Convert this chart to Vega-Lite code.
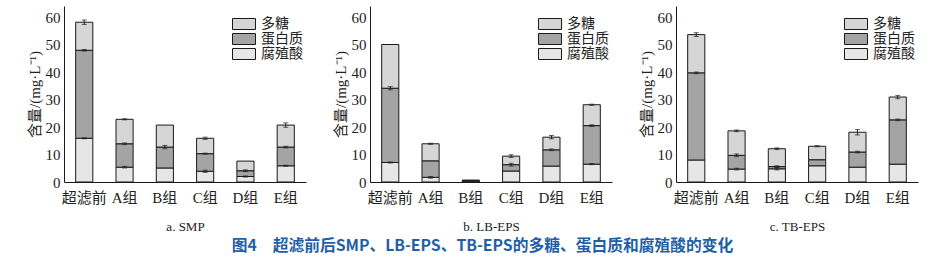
{
  "$schema": "https://vega.github.io/schema/vega-lite/v6.json",
  "padding": {"left": 27, "top": 6, "right": 5, "bottom": 4},
  "background": "white",
  "datasets": {
    "bars": [
      {"panel": "a", "group": "超滤前", "component": "腐殖酸", "key": "humic", "value": 15.9},
      {"panel": "a", "group": "超滤前", "component": "蛋白质", "key": "protein", "value": 32.0},
      {"panel": "a", "group": "超滤前", "component": "多糖", "key": "sugar", "value": 10.2},
      {"panel": "a", "group": "A组", "component": "腐殖酸", "key": "humic", "value": 5.4},
      {"panel": "a", "group": "A组", "component": "蛋白质", "key": "protein", "value": 8.5},
      {"panel": "a", "group": "A组", "component": "多糖", "key": "sugar", "value": 8.9},
      {"panel": "a", "group": "B组", "component": "腐殖酸", "key": "humic", "value": 5.1},
      {"panel": "a", "group": "B组", "component": "蛋白质", "key": "protein", "value": 7.6},
      {"panel": "a", "group": "B组", "component": "多糖", "key": "sugar", "value": 8.0},
      {"panel": "a", "group": "C组", "component": "腐殖酸", "key": "humic", "value": 3.9},
      {"panel": "a", "group": "C组", "component": "蛋白质", "key": "protein", "value": 6.4},
      {"panel": "a", "group": "C组", "component": "多糖", "key": "sugar", "value": 5.6},
      {"panel": "a", "group": "D组", "component": "腐殖酸", "key": "humic", "value": 2.0},
      {"panel": "a", "group": "D组", "component": "蛋白质", "key": "protein", "value": 2.1},
      {"panel": "a", "group": "D组", "component": "多糖", "key": "sugar", "value": 3.5},
      {"panel": "a", "group": "E组", "component": "腐殖酸", "key": "humic", "value": 5.9},
      {"panel": "a", "group": "E组", "component": "蛋白质", "key": "protein", "value": 6.8},
      {"panel": "a", "group": "E组", "component": "多糖", "key": "sugar", "value": 8.0},
      {"panel": "b", "group": "超滤前", "component": "腐殖酸", "key": "humic", "value": 7.1},
      {"panel": "b", "group": "超滤前", "component": "蛋白质", "key": "protein", "value": 27.0},
      {"panel": "b", "group": "超滤前", "component": "多糖", "key": "sugar", "value": 15.9},
      {"panel": "b", "group": "A组", "component": "腐殖酸", "key": "humic", "value": 1.7},
      {"panel": "b", "group": "A组", "component": "蛋白质", "key": "protein", "value": 6.0},
      {"panel": "b", "group": "A组", "component": "多糖", "key": "sugar", "value": 6.2},
      {"panel": "b", "group": "B组", "component": "腐殖酸", "key": "humic", "value": 0.3},
      {"panel": "b", "group": "B组", "component": "蛋白质", "key": "protein", "value": 0.2},
      {"panel": "b", "group": "B组", "component": "多糖", "key": "sugar", "value": 0.2},
      {"panel": "b", "group": "C组", "component": "腐殖酸", "key": "humic", "value": 4.0},
      {"panel": "b", "group": "C组", "component": "蛋白质", "key": "protein", "value": 2.3},
      {"panel": "b", "group": "C组", "component": "多糖", "key": "sugar", "value": 3.1},
      {"panel": "b", "group": "D组", "component": "腐殖酸", "key": "humic", "value": 5.8},
      {"panel": "b", "group": "D组", "component": "蛋白质", "key": "protein", "value": 5.9},
      {"panel": "b", "group": "D组", "component": "多糖", "key": "sugar", "value": 4.6},
      {"panel": "b", "group": "E组", "component": "腐殖酸", "key": "humic", "value": 6.5},
      {"panel": "b", "group": "E组", "component": "蛋白质", "key": "protein", "value": 14.0},
      {"panel": "b", "group": "E组", "component": "多糖", "key": "sugar", "value": 7.6},
      {"panel": "c", "group": "超滤前", "component": "腐殖酸", "key": "humic", "value": 8.0},
      {"panel": "c", "group": "超滤前", "component": "蛋白质", "key": "protein", "value": 31.7},
      {"panel": "c", "group": "超滤前", "component": "多糖", "key": "sugar", "value": 13.9},
      {"panel": "c", "group": "A组", "component": "腐殖酸", "key": "humic", "value": 4.7},
      {"panel": "c", "group": "A组", "component": "蛋白质", "key": "protein", "value": 5.0},
      {"panel": "c", "group": "A组", "component": "多糖", "key": "sugar", "value": 8.9},
      {"panel": "c", "group": "B组", "component": "腐殖酸", "key": "humic", "value": 4.8},
      {"panel": "c", "group": "B组", "component": "蛋白质", "key": "protein", "value": 0.8},
      {"panel": "c", "group": "B组", "component": "多糖", "key": "sugar", "value": 6.5},
      {"panel": "c", "group": "C组", "component": "腐殖酸", "key": "humic", "value": 5.9},
      {"panel": "c", "group": "C组", "component": "蛋白质", "key": "protein", "value": 2.2},
      {"panel": "c", "group": "C组", "component": "多糖", "key": "sugar", "value": 4.9},
      {"panel": "c", "group": "D组", "component": "腐殖酸", "key": "humic", "value": 5.4},
      {"panel": "c", "group": "D组", "component": "蛋白质", "key": "protein", "value": 5.5},
      {"panel": "c", "group": "D组", "component": "多糖", "key": "sugar", "value": 7.2},
      {"panel": "c", "group": "E组", "component": "腐殖酸", "key": "humic", "value": 6.5},
      {"panel": "c", "group": "E组", "component": "蛋白质", "key": "protein", "value": 16.1},
      {"panel": "c", "group": "E组", "component": "多糖", "key": "sugar", "value": 8.3}
    ],
    "errs": [
      {"panel": "a", "group": "超滤前", "lo": 57.3, "hi": 58.9},
      {"panel": "a", "group": "超滤前", "lo": 47.6, "hi": 48.2},
      {"panel": "a", "group": "超滤前", "lo": 15.7, "hi": 16.1},
      {"panel": "a", "group": "A组", "lo": 22.6, "hi": 23.0},
      {"panel": "a", "group": "A组", "lo": 13.6, "hi": 14.2},
      {"panel": "a", "group": "A组", "lo": 5.1, "hi": 5.7},
      {"panel": "a", "group": "B组", "lo": 12.1, "hi": 13.3},
      {"panel": "a", "group": "C组", "lo": 15.5, "hi": 16.3},
      {"panel": "a", "group": "C组", "lo": 10.1, "hi": 10.5},
      {"panel": "a", "group": "C组", "lo": 3.5, "hi": 4.3},
      {"panel": "a", "group": "D组", "lo": 3.8, "hi": 4.4},
      {"panel": "a", "group": "D组", "lo": 1.8, "hi": 2.2},
      {"panel": "a", "group": "E组", "lo": 19.9, "hi": 21.5},
      {"panel": "a", "group": "E组", "lo": 12.4, "hi": 13.0},
      {"panel": "a", "group": "E组", "lo": 5.7, "hi": 6.1},
      {"panel": "b", "group": "超滤前", "lo": 33.5, "hi": 34.7},
      {"panel": "b", "group": "超滤前", "lo": 6.9, "hi": 7.3},
      {"panel": "b", "group": "A组", "lo": 13.7, "hi": 14.1},
      {"panel": "b", "group": "A组", "lo": 1.4, "hi": 2.0},
      {"panel": "b", "group": "C组", "lo": 8.9, "hi": 9.9},
      {"panel": "b", "group": "C组", "lo": 5.8, "hi": 6.8},
      {"panel": "b", "group": "D组", "lo": 15.7, "hi": 16.9},
      {"panel": "b", "group": "D组", "lo": 11.4, "hi": 12.0},
      {"panel": "b", "group": "E组", "lo": 27.9, "hi": 28.3},
      {"panel": "b", "group": "E组", "lo": 20.2, "hi": 20.8},
      {"panel": "b", "group": "E组", "lo": 6.3, "hi": 6.7},
      {"panel": "c", "group": "超滤前", "lo": 52.9, "hi": 54.3},
      {"panel": "c", "group": "超滤前", "lo": 39.4, "hi": 40.0},
      {"panel": "c", "group": "A组", "lo": 18.3, "hi": 18.9},
      {"panel": "c", "group": "A组", "lo": 9.2, "hi": 10.2},
      {"panel": "c", "group": "A组", "lo": 4.4, "hi": 5.0},
      {"panel": "c", "group": "B组", "lo": 11.8, "hi": 12.4},
      {"panel": "c", "group": "B组", "lo": 5.3, "hi": 5.9},
      {"panel": "c", "group": "B组", "lo": 4.4, "hi": 5.2},
      {"panel": "c", "group": "C组", "lo": 12.8, "hi": 13.2},
      {"panel": "c", "group": "D组", "lo": 17.1, "hi": 19.1},
      {"panel": "c", "group": "D组", "lo": 10.6, "hi": 11.2},
      {"panel": "c", "group": "E组", "lo": 30.3, "hi": 31.5},
      {"panel": "c", "group": "E组", "lo": 22.3, "hi": 22.9}
    ]
  },
  "title": {
    "text": "图4\u3000超滤前后SMP、LB-EPS、TB-EPS的多糖、蛋白质和腐殖酸的变化",
    "orient": "bottom",
    "anchor": "middle",
    "font": "Noto Sans CJK SC",
    "fontSize": 15.75,
    "fontWeight": "bold",
    "color": "#1f5fa6",
    "offset": 6,
    "dx": 10
  },
  "spacing": 27,
  "resolve": {"scale": {"fill": "independent"}, "legend": {"fill": "independent"}},
  "hconcat": [
    {
      "width": 242, "height": 176,
      "encoding": {
        "x": {"field": "group", "type": "nominal", "sort": ["超滤前","A组","B组","C组","D组","E组"], "scale": {"paddingInner": 0.575, "paddingOuter": 0.29}, "axis": {"title": "a. SMP"}}
      },
      "layer": [
        {
          "data": {"name": "bars"},
          "transform": [{"filter": "datum.panel === 'a'"}],
          "mark": {"type": "bar", "stroke": "#1a1a1a", "strokeWidth": 1},
          "encoding": {
            "y": {"field": "value", "type": "quantitative", "stack": "zero", "scale": {"domain": [0, 64], "nice": false}, "axis": {"title": "含量/(mg·L⁻¹)", "values": [0,10,20,30,40,50,60], "labelOverlap": false}},
            "fill": {"field": "component", "type": "nominal", "scale": {"domain": ["多糖","蛋白质","腐殖酸"], "range": ["#d6d6d6", "#a4a4a4", "#e6e6e6"]}, "legend": {"title": null, "orient": "none", "legendX": 173, "legendY": 11}},
            "order": {"field": "key", "sort": "ascending"}
          }
        },
        {
          "data": {"name": "errs"},
          "transform": [{"filter": "datum.panel === 'a'"}],
          "mark": {"type": "rule", "color": "#222", "strokeWidth": 1},
          "encoding": {"y": {"field": "lo", "type": "quantitative", "axis": {"title": "含量/(mg·L⁻¹)", "values": [0,10,20,30,40,50,60], "labelOverlap": false}}, "y2": {"field": "hi"}}
        },
        {
          "data": {"name": "errs"},
          "transform": [{"filter": "datum.panel === 'a'"}],
          "mark": {"type": "tick", "color": "#222", "thickness": 1, "size": 5, "orient": "horizontal"},
          "encoding": {"y": {"field": "hi", "type": "quantitative", "axis": {"title": "含量/(mg·L⁻¹)", "values": [0,10,20,30,40,50,60], "labelOverlap": false}}}
        },
        {
          "data": {"name": "errs"},
          "transform": [{"filter": "datum.panel === 'a'"}],
          "mark": {"type": "tick", "color": "#222", "thickness": 1, "size": 5, "orient": "horizontal"},
          "encoding": {"y": {"field": "lo", "type": "quantitative", "axis": {"title": "含量/(mg·L⁻¹)", "values": [0,10,20,30,40,50,60], "labelOverlap": false}}}
        }
      ]
    },
    {
      "width": 242, "height": 176,
      "encoding": {
        "x": {"field": "group", "type": "nominal", "sort": ["超滤前","A组","B组","C组","D组","E组"], "scale": {"paddingInner": 0.575, "paddingOuter": 0.29}, "axis": {"title": "b. LB-EPS"}}
      },
      "layer": [
        {
          "data": {"name": "bars"},
          "transform": [{"filter": "datum.panel === 'b'"}],
          "mark": {"type": "bar", "stroke": "#1a1a1a", "strokeWidth": 1},
          "encoding": {
            "y": {"field": "value", "type": "quantitative", "stack": "zero", "scale": {"domain": [0, 64], "nice": false}, "axis": {"title": "含量/(mg·L⁻¹)", "values": [0,10,20,30,40,50,60], "labelOverlap": false}},
            "fill": {"field": "component", "type": "nominal", "scale": {"domain": ["多糖","蛋白质","腐殖酸"], "range": ["#d6d6d6", "#a4a4a4", "#e6e6e6"]}, "legend": {"title": null, "orient": "none", "legendX": 173, "legendY": 11}},
            "order": {"field": "key", "sort": "ascending"}
          }
        },
        {
          "data": {"name": "errs"},
          "transform": [{"filter": "datum.panel === 'b'"}],
          "mark": {"type": "rule", "color": "#222", "strokeWidth": 1},
          "encoding": {"y": {"field": "lo", "type": "quantitative", "axis": {"title": "含量/(mg·L⁻¹)", "values": [0,10,20,30,40,50,60], "labelOverlap": false}}, "y2": {"field": "hi"}}
        },
        {
          "data": {"name": "errs"},
          "transform": [{"filter": "datum.panel === 'b'"}],
          "mark": {"type": "tick", "color": "#222", "thickness": 1, "size": 5, "orient": "horizontal"},
          "encoding": {"y": {"field": "hi", "type": "quantitative", "axis": {"title": "含量/(mg·L⁻¹)", "values": [0,10,20,30,40,50,60], "labelOverlap": false}}}
        },
        {
          "data": {"name": "errs"},
          "transform": [{"filter": "datum.panel === 'b'"}],
          "mark": {"type": "tick", "color": "#222", "thickness": 1, "size": 5, "orient": "horizontal"},
          "encoding": {"y": {"field": "lo", "type": "quantitative", "axis": {"title": "含量/(mg·L⁻¹)", "values": [0,10,20,30,40,50,60], "labelOverlap": false}}}
        }
      ]
    },
    {
      "width": 242, "height": 176,
      "encoding": {
        "x": {"field": "group", "type": "nominal", "sort": ["超滤前","A组","B组","C组","D组","E组"], "scale": {"paddingInner": 0.575, "paddingOuter": 0.29}, "axis": {"title": "c. TB-EPS"}}
      },
      "layer": [
        {
          "data": {"name": "bars"},
          "transform": [{"filter": "datum.panel === 'c'"}],
          "mark": {"type": "bar", "stroke": "#1a1a1a", "strokeWidth": 1},
          "encoding": {
            "y": {"field": "value", "type": "quantitative", "stack": "zero", "scale": {"domain": [0, 64], "nice": false}, "axis": {"title": "含量/(mg·L⁻¹)", "values": [0,10,20,30,40,50,60], "labelOverlap": false}},
            "fill": {"field": "component", "type": "nominal", "scale": {"domain": ["多糖","蛋白质","腐殖酸"], "range": ["#d6d6d6", "#a4a4a4", "#e6e6e6"]}, "legend": {"title": null, "orient": "none", "legendX": 173, "legendY": 11}},
            "order": {"field": "key", "sort": "ascending"}
          }
        },
        {
          "data": {"name": "errs"},
          "transform": [{"filter": "datum.panel === 'c'"}],
          "mark": {"type": "rule", "color": "#222", "strokeWidth": 1},
          "encoding": {"y": {"field": "lo", "type": "quantitative", "axis": {"title": "含量/(mg·L⁻¹)", "values": [0,10,20,30,40,50,60], "labelOverlap": false}}, "y2": {"field": "hi"}}
        },
        {
          "data": {"name": "errs"},
          "transform": [{"filter": "datum.panel === 'c'"}],
          "mark": {"type": "tick", "color": "#222", "thickness": 1, "size": 5, "orient": "horizontal"},
          "encoding": {"y": {"field": "hi", "type": "quantitative", "axis": {"title": "含量/(mg·L⁻¹)", "values": [0,10,20,30,40,50,60], "labelOverlap": false}}}
        },
        {
          "data": {"name": "errs"},
          "transform": [{"filter": "datum.panel === 'c'"}],
          "mark": {"type": "tick", "color": "#222", "thickness": 1, "size": 5, "orient": "horizontal"},
          "encoding": {"y": {"field": "lo", "type": "quantitative", "axis": {"title": "含量/(mg·L⁻¹)", "values": [0,10,20,30,40,50,60], "labelOverlap": false}}}
        }
      ]
    }
  ],
  "config": {
    "view": {"stroke": null},
    "font": "'Liberation Serif', serif",
    "axis": {
      "grid": false,
      "ticks": false,
      "labelOverlap": false,
      "domainColor": "#1a1a1a",
      "domainWidth": 1,
      "labelFont": "'Liberation Serif', 'Noto Sans CJK SC', serif",
      "labelFontSize": 15,
      "labelColor": "#222",
      "titleFont": "'Liberation Serif', 'Noto Sans CJK SC', serif",
      "titleFontWeight": "normal",
      "titleColor": "#222"
    },
    "axisX": {"labelAngle": 0, "labelPadding": 8, "titleFontSize": 13, "titlePadding": 15, "domainExtent": 0},
    "axisY": {"labelPadding": 4, "titleFontSize": 15, "titlePadding": 3},
    "legend": {
      "labelFont": "'Noto Sans CJK SC'",
      "labelFontSize": 14,
      "labelColor": "#222",
      "symbolType": "M-2,-0.96H2V0.96H-2Z",
      "symbolSize": 132,
      "symbolStrokeColor": "#1a1a1a",
      "symbolStrokeWidth": 1,
      "rowPadding": -2,
      "labelOffset": 10,
      "padding": 0
    }
  }
}
